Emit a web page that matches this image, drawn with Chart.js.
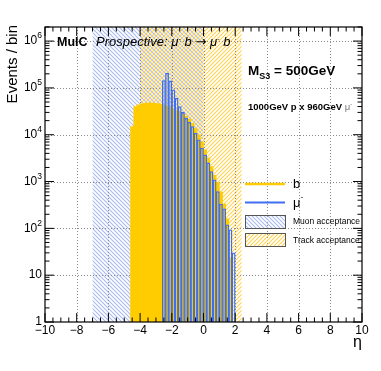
<!DOCTYPE html>
<html lang="en">
<head>
    <meta charset="UTF-8">
    <title>MuIC eta distribution</title>
    <script src="https://cdn.jsdelivr.net/npm/chart.js"></script>
    <style>
        html, body { margin: 0; padding: 0; background: #fff; }
        #wrap { width: 381px; height: 371px; }
    </style>
</head>
<body>
    <div id="wrap"><canvas id="etaChart" width="381" height="371"></canvas></div>

    <script>
        // Histogram binning (eta), bin width 0.2
        const binWidth = 0.2;

        // b-quark eta, first bin starts at -4.6
        const bFirstEdge = -4.6;
        const bCounts = [15000, 40000, 43500, 45500, 47000, 47500, 47500, 47000, 46000, 44500,
                         42500, 40500, 38500, 36000, 33500, 31000, 28000, 25000, 21500, 17500,
                         13500, 10000, 7000, 4800, 3200, 2100, 1350, 950, 600, 330, 160, 23];

        // muon eta, first bin starts at -2.6
        const muFirstEdge = -2.6;
        const muCounts = [144000, 206000, 141000, 91000, 60000, 40000, 30000, 22600, 18600, 15000,
                          10800, 7800, 5200, 3700, 2500, 1640, 1090, 614, 330, 262, 119, 93, 30];

        // acceptance bands (eta ranges)
        const muonAcceptance = [-7, 0];
        const trackAcceptance = [-4, 2.4];

        // axes
        const xTicks = [-10, -8, -6, -4, -2, 0, 2, 4, 6, 8, 10];
        const xTickLabels = ["\u221210", "\u22128", "\u22126", "\u22124", "\u22122", "0", "2", "4", "6", "8", "10"];
        const yTicks = [1, 10, 100, 1e3, 1e4, 1e5, 1e6];
        const yTickBase = ["1", "10", "10", "10", "10", "10", "10"];
        const yTickExp = ["", "", "2", "3", "4", "5", "6"];

        const legendLabels = ["b", "\u03bc", "Muon acceptance", "Track acceptance"];

        const FONT = '"Liberation Sans", Arial, Helvetica, sans-serif';
        const yellow = "#ffcc00";
        const blue = "#3f6ff0";

        // bin centres, rounded so both histograms share exactly the same x values
        const toBins = (first, counts) => counts.map((v, i) => ({
            x: Math.round((first + (i + 0.5) * binWidth) * 1000) / 1000,
            y: v
        }));

        function makeHatch(ctx, color, forward) {
            const s = 4;
            const c = document.createElement("canvas");
            c.width = s; c.height = s;
            const g = c.getContext("2d");
            g.strokeStyle = color;
            g.lineWidth = 1.1;
            g.beginPath();
            if (forward) {
                g.moveTo(0, s); g.lineTo(s, 0);
                g.moveTo(-1, 1); g.lineTo(1, -1);
                g.moveTo(s - 1, s + 1); g.lineTo(s + 1, s - 1);
            } else {
                g.moveTo(0, 0); g.lineTo(s, s);
                g.moveTo(-1, s - 1); g.lineTo(1, s + 1);
                g.moveTo(s - 1, -1); g.lineTo(s + 1, 1);
            }
            g.stroke();
            return ctx.createPattern(c, "repeat");
        }

        // draw a run of text pieces (for sub/superscripts)
        function drawRuns(ctx, x, y, runs, align) {
            let total = 0;
            runs.forEach(r => { ctx.font = r.font; r.w = ctx.measureText(r.t).width; total += r.w; });
            let cx = align === "right" ? x - total : x;
            runs.forEach(r => {
                ctx.font = r.font;
                ctx.fillStyle = r.color || "#000";
                ctx.fillText(r.t, cx, y + (r.dy || 0));
                cx += r.w;
            });
        }

        let muonHatch, trackHatch;

        const rootStyle = {
            id: "rootStyle",
            beforeDatasetsDraw(chart) {
                const { ctx, chartArea: a, scales: { x, y } } = chart;
                if (!muonHatch) {
                    muonHatch = makeHatch(ctx, "#a9bbef", false);
                    trackHatch = makeHatch(ctx, "#ffd24f", true);
                }
                ctx.save();
                ctx.fillStyle = muonHatch;
                ctx.fillRect(x.getPixelForValue(muonAcceptance[0]), a.top,
                    x.getPixelForValue(muonAcceptance[1]) - x.getPixelForValue(muonAcceptance[0]), a.bottom - a.top);
                ctx.fillStyle = trackHatch;
                ctx.fillRect(x.getPixelForValue(trackAcceptance[0]), a.top,
                    x.getPixelForValue(trackAcceptance[1]) - x.getPixelForValue(trackAcceptance[0]), a.bottom - a.top);

                // dotted grid
                ctx.strokeStyle = "#8a8a8a";
                ctx.lineWidth = 1;
                ctx.setLineDash([1, 2]);
                ctx.beginPath();
                xTicks.slice(1, -1).forEach(v => {
                    const px = Math.round(x.getPixelForValue(v)) + 0.5;
                    ctx.moveTo(px, a.top); ctx.lineTo(px, a.bottom);
                });
                yTicks.slice(1).forEach(v => {
                    const py = Math.round(y.getPixelForValue(v)) + 0.5;
                    ctx.moveTo(a.left, py); ctx.lineTo(a.right, py);
                });
                ctx.stroke();
                ctx.restore();
            },
            afterDraw(chart) {
                const { ctx, chartArea: a, scales: { x, y } } = chart;
                ctx.save();

                // frame
                ctx.strokeStyle = "#000";
                ctx.lineWidth = 1.2;
                ctx.strokeRect(a.left, a.top, a.right - a.left, a.bottom - a.top);

                // ticks, inward on all four sides
                ctx.lineWidth = 1;
                ctx.beginPath();
                for (let v = -10; v <= 10.001; v += 0.5) {
                    const px = x.getPixelForValue(v);
                    const len = Math.abs(v / 2 - Math.round(v / 2)) < 1e-6 ? 9 : 4.5;
                    ctx.moveTo(px, a.bottom); ctx.lineTo(px, a.bottom - len);
                    ctx.moveTo(px, a.top); ctx.lineTo(px, a.top + len);
                }
                for (let d = 0; d < 7; d++) {
                    for (let m = 1; m <= 9; m++) {
                        const v = m * Math.pow(10, d);
                        if (v > y.max) break;
                        const py = y.getPixelForValue(v);
                        const len = m === 1 ? 9 : 4.5;
                        ctx.moveTo(a.left, py); ctx.lineTo(a.left + len, py);
                        ctx.moveTo(a.right, py); ctx.lineTo(a.right - len, py);
                    }
                }
                ctx.stroke();

                // tick labels
                ctx.fillStyle = "#000";
                ctx.font = "12px " + FONT;
                ctx.textAlign = "center";
                ctx.textBaseline = "middle";
                xTicks.forEach((v, i) => ctx.fillText(xTickLabels[i], x.getPixelForValue(v), a.bottom + 9));
                ctx.textAlign = "left";
                yTicks.forEach((v, i) => {
                    const runs = [{ t: yTickBase[i], font: "12px " + FONT }];
                    if (yTickExp[i]) runs.push({ t: yTickExp[i], font: "8.5px " + FONT, dy: -5 });
                    drawRuns(ctx, a.left - 3, y.getPixelForValue(v), runs, "right");
                });

                // axis titles
                ctx.font = "15px " + FONT;
                ctx.textBaseline = "middle";
                ctx.save();
                ctx.translate(13, 25);
                ctx.rotate(-Math.PI / 2);
                ctx.textAlign = "right";
                ctx.fillText("Events / bin", 0, 0);
                ctx.restore();
                ctx.textAlign = "right";
                ctx.textBaseline = "alphabetic";
                ctx.font = "16px " + FONT;
                ctx.fillText("\u03b7", a.right, 347);

                // labels
                ctx.textAlign = "left";
                ctx.textBaseline = "alphabetic";
                drawRuns(ctx, 57, 45.5, [{ t: "MuIC", font: "bold 12.5px " + FONT }]);
                const it = "italic 13px " + FONT, sup = "italic 8px " + FONT;
                drawRuns(ctx, 96, 45.5, [
                    { t: "Prospective: \u03bc", font: it }, { t: "-", font: sup, dy: -5 },
                    { t: " b ", font: it }, { t: "\u2192", font: "13px \"DejaVu Sans\", sans-serif" },
                    { t: " \u03bc", font: it }, { t: "-", font: sup, dy: -5 },
                    { t: " b", font: it }
                ]);
                drawRuns(ctx, 248, 75, [
                    { t: "M", font: "bold 13.5px " + FONT },
                    { t: "S3", font: "bold 9px " + FONT, dy: 3.5 },
                    { t: " = 500GeV", font: "bold 13.5px " + FONT }
                ]);
                drawRuns(ctx, 248, 110, [
                    { t: "1000GeV p x 960GeV ", font: "bold 9.5px " + FONT },
                    { t: "\u03bc", font: "9.5px " + FONT, color: "#777" },
                    { t: "-", font: "6.5px " + FONT, dy: -4, color: "#777" }
                ]);

                // legend
                const lx0 = 245, lx1 = 285, tx = 293;
                ctx.lineWidth = 2.5;
                ctx.strokeStyle = yellow;
                ctx.beginPath(); ctx.moveTo(lx0, 184); ctx.lineTo(lx1, 184); ctx.stroke();
                ctx.lineWidth = 2;
                ctx.strokeStyle = blue;
                ctx.beginPath(); ctx.moveTo(lx0, 202.5); ctx.lineTo(lx1, 202.5); ctx.stroke();
                ctx.textBaseline = "middle";
                drawRuns(ctx, tx, 184, [{ t: legendLabels[0], font: "13px " + FONT }]);
                drawRuns(ctx, tx, 203, [{ t: legendLabels[1], font: "13px " + FONT }, { t: "-", font: "8px " + FONT, dy: -6 }]);

                ctx.lineWidth = 1;
                ctx.strokeStyle = "#555";
                ctx.fillStyle = muonHatch;
                ctx.fillRect(lx0, 215, lx1 - lx0, 13);
                ctx.strokeRect(lx0 + 0.5, 215.5, lx1 - lx0, 13);
                ctx.fillStyle = trackHatch;
                ctx.fillRect(lx0, 233.5, lx1 - lx0, 13);
                ctx.strokeRect(lx0 + 0.5, 233.5, lx1 - lx0, 13);
                drawRuns(ctx, tx, 222, [{ t: legendLabels[2], font: "8.5px " + FONT }]);
                drawRuns(ctx, tx, 240.5, [{ t: legendLabels[3], font: "8.5px " + FONT }]);

                ctx.restore();
            }
        };

        const ctx = document.getElementById("etaChart").getContext("2d");
        const etaChart = new Chart(ctx, {
            type: "bar",
            data: {
                datasets: [
                    {
                        label: "mu",
                        data: toBins(muFirstEdge, muCounts),
                        backgroundColor: "rgba(0,0,0,0)",
                        borderColor: blue,
                        borderWidth: 0.7,
                        grouped: false,
                        barPercentage: 1,
                        categoryPercentage: 1,
                        order: 1
                    },
                    {
                        label: "b",
                        data: toBins(bFirstEdge, bCounts),
                        backgroundColor: yellow,
                        borderWidth: 0,
                        grouped: false,
                        barPercentage: 1,
                        categoryPercentage: 1,
                        order: 2
                    }
                ]
            },
            options: {
                responsive: false,
                animation: false,
                layout: { padding: { left: 45, right: 19, top: 27, bottom: 49 } },
                scales: {
                    x: { type: "linear", min: -10, max: 10, offset: false, display: false },
                    y: { type: "logarithmic", min: 1, max: 2e6, display: false }
                },
                plugins: {
                    legend: { display: false },
                    tooltip: { enabled: false }
                }
            },
            plugins: [rootStyle]
        });
    </script>
</body>
</html>
